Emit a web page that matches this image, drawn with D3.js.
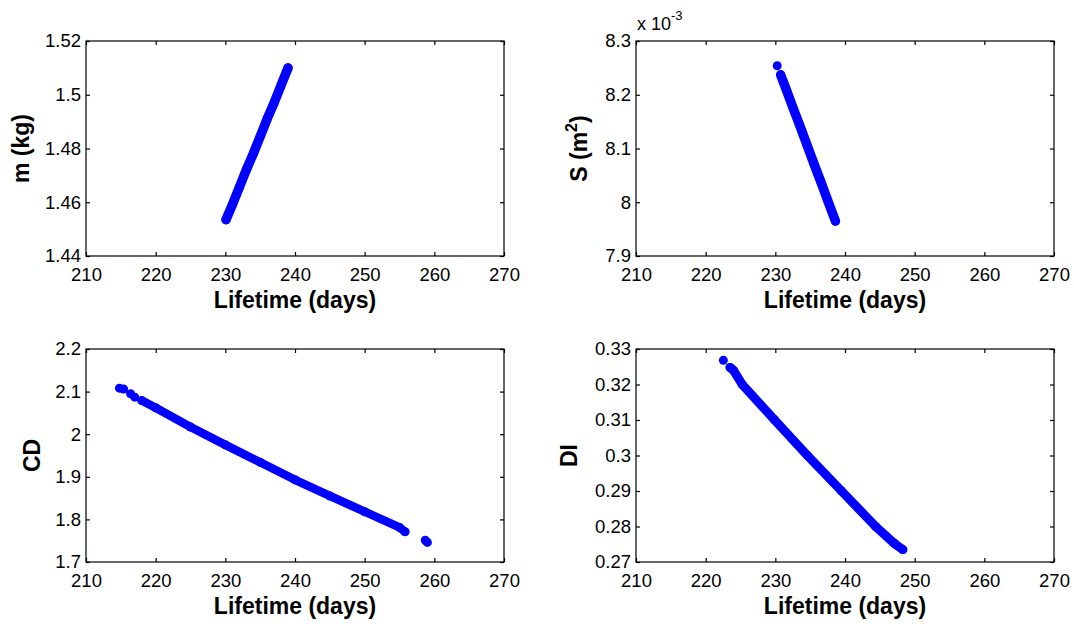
<!DOCTYPE html>
<html>
<head>
<meta charset="utf-8">
<script src="https://cdn.jsdelivr.net/npm/d3@7"></script>
<style>
  html, body { margin: 0; padding: 0; background: #fff; }
  svg { display: block; }
  text { font-family: "Liberation Sans", Arial, Helvetica, sans-serif; fill: #000; }
</style>
</head>
<body>
<svg id="chart" width="1074" height="624"></svg>
<script>
// ---------------- data ----------------
const xTicks = [210, 220, 230, 240, 250, 260, 270];
const xTickLabels = ["210", "220", "230", "240", "250", "260", "270"];

// Panel 1: m (kg) vs lifetime
const mLifetime = [230.1, 231.0, 232.0, 233.0, 234.0, 235.0, 236.0, 237.0, 238.0, 239.0];
const mValues   = [1.4535, 1.459, 1.4655, 1.472, 1.478, 1.4845, 1.491, 1.497, 1.5035, 1.510];
const mTicks = [1.44, 1.46, 1.48, 1.50, 1.52];
const mTickLabels = ["1.44", "1.46", "1.48", "1.5", "1.52"];

// Panel 2: S (m^2, x 10^-3) vs lifetime
const sLifetime = [230.27, 230.76, 231.5, 232.5, 233.5, 234.5, 235.5, 236.5, 237.5, 238.63];
const sValues   = [8.254, 8.237, 8.212, 8.177, 8.143, 8.108, 8.073, 8.039, 8.004, 7.965];
const sTicks = [7.9, 8.0, 8.1, 8.2, 8.3];
const sTickLabels = ["7.9", "8", "8.1", "8.2", "8.3"];

// Panel 3: CD vs lifetime
const cdLifetime = [214.8, 215.4, 216.4, 217.0, 218.0, 220.0, 225.0, 230.0, 235.0, 240.0, 245.0, 250.0, 255.0, 255.8, 258.7, 259.0];
const cdValues   = [2.108, 2.106, 2.095, 2.087, 2.079, 2.062, 2.017, 1.975, 1.934, 1.893, 1.855, 1.818, 1.781, 1.771, 1.751, 1.746];
const cdTicks = [1.7, 1.8, 1.9, 2.0, 2.1, 2.2];
const cdTickLabels = ["1.7", "1.8", "1.9", "2", "2.1", "2.2"];

// Panel 4: DI vs lifetime
const diLifetime = [222.54, 223.5, 224.0, 225.25, 229.9, 234.6, 239.5, 244.4, 247.1, 248.3];
const diValues   = [0.3268, 0.3248, 0.3240, 0.3200, 0.3100, 0.3000, 0.2900, 0.2800, 0.2752, 0.2735];
const diTicks = [0.27, 0.28, 0.29, 0.30, 0.31, 0.32, 0.33];
const diTickLabels = ["0.27", "0.28", "0.29", "0.3", "0.31", "0.32", "0.33"];

// ---------------- drawing ----------------
const svg = d3.select("#chart");
const BLUE = "#0000ff";
const TICK_FONT = "18.5px";
const LABEL_FONT = "23px";

function panel(cfg) {
  const x = d3.scaleLinear().domain([210, 270]).range([cfg.left, cfg.right]);
  const y = d3.scaleLinear().domain(cfg.yDomain).range([cfg.bottom, cfg.top]);
  const g = svg.append("g");

  const pts = cfg.xs.map((v, i) => ({ x: v, y: cfg.ys[i], i }));

  // dense band of markers: stroke through the read points of the continuous band
  const bandPts = pts.filter(p => p.i >= cfg.bandFrom && p.i <= cfg.bandTo);
  const line = d3.line().x(p => x(p.x)).y(p => y(p.y));
  g.append("path")
    .attr("d", line(bandPts))
    .attr("fill", "none")
    .attr("stroke", BLUE)
    .attr("stroke-width", cfg.bandWidth)
    .attr("stroke-linecap", "round")
    .attr("stroke-linejoin", "round");

  g.selectAll("circle").data(pts).enter().append("circle")
    .attr("cx", p => x(p.x))
    .attr("cy", p => y(p.y))
    .attr("r", 4.5)
    .attr("fill", BLUE);

  // frame
  g.append("rect")
    .attr("x", cfg.left).attr("y", cfg.top)
    .attr("width", cfg.right - cfg.left).attr("height", cfg.bottom - cfg.top)
    .attr("fill", "none").attr("stroke", "#000").attr("stroke-width", 1.2);

  const xb = g.append("g").attr("transform", `translate(0,${cfg.bottom})`)
    .call(d3.axisBottom(x).tickValues(xTicks).tickFormat((d, i) => xTickLabels[i])
      .tickSizeInner(-4).tickSizeOuter(0).tickPadding(12));
  const xt = g.append("g").attr("transform", `translate(0,${cfg.top})`)
    .call(d3.axisTop(x).tickValues(xTicks).tickFormat("").tickSizeInner(-4).tickSizeOuter(0));
  const yl = g.append("g").attr("transform", `translate(${cfg.left},0)`)
    .call(d3.axisLeft(y).tickValues(cfg.yTicks).tickFormat((d, i) => cfg.yTickLabels[i])
      .tickSizeInner(-4).tickSizeOuter(0).tickPadding(5));
  const yr = g.append("g").attr("transform", `translate(${cfg.right},0)`)
    .call(d3.axisRight(y).tickValues(cfg.yTicks).tickFormat("").tickSizeInner(-4).tickSizeOuter(0));

  [xb, xt, yl, yr].forEach(a => {
    a.select(".domain").remove();
    a.selectAll("line").attr("stroke", "#000").attr("stroke-width", 1.2);
    a.selectAll("text").attr("font-size", TICK_FONT).attr("fill", "#000")
      .style("font-family", '"Liberation Sans", Arial, sans-serif');
  });

  g.append("text")
    .attr("x", (cfg.left + cfg.right) / 2)
    .attr("y", cfg.bottom + 52)
    .attr("text-anchor", "middle")
    .attr("font-size", LABEL_FONT).attr("font-weight", "bold")
    .text("Lifetime (days)");

  const yLab = g.append("text")
    .attr("transform", `translate(${cfg.yLabelX},${(cfg.top + cfg.bottom) / 2}) rotate(-90)`)
    .attr("text-anchor", "middle")
    .attr("font-size", LABEL_FONT).attr("font-weight", "bold");
  cfg.yLabel(yLab);
}

panel({
  left: 86, right: 504, top: 41, bottom: 256,
  yDomain: [1.44, 1.52], yTicks: mTicks, yTickLabels: mTickLabels,
  xs: mLifetime, ys: mValues, bandFrom: 0, bandTo: 9, bandWidth: 9.5,
  yLabelX: 29,
  yLabel: t => t.text("m (kg)")
});

panel({
  left: 636, right: 1054, top: 41, bottom: 256,
  yDomain: [7.9, 8.3], yTicks: sTicks, yTickLabels: sTickLabels,
  xs: sLifetime, ys: sValues, bandFrom: 1, bandTo: 9, bandWidth: 9.5,
  yLabelX: 587,
  yLabel: t => {
    t.append("tspan").text("S (m");
    t.append("tspan").attr("font-size", "16px").attr("dy", "-0.6em").text("2");
    t.append("tspan").attr("dy", "0.42em").text(")");
  }
});

const ex = svg.append("text").attr("x", 637).attr("y", 30).attr("font-size", "18px");
ex.append("tspan").text("x 10");
ex.append("tspan").attr("font-size", "13px").attr("dy", "-10").text("-3");

panel({
  left: 86, right: 504, top: 349, bottom: 562,
  yDomain: [1.7, 2.2], yTicks: cdTicks, yTickLabels: cdTickLabels,
  xs: cdLifetime, ys: cdValues, bandFrom: 4, bandTo: 13, bandWidth: 8.5,
  yLabelX: 40,
  yLabel: t => t.text("CD")
});

panel({
  left: 636, right: 1054, top: 349, bottom: 562,
  yDomain: [0.27, 0.33], yTicks: diTicks, yTickLabels: diTickLabels,
  xs: diLifetime, ys: diValues, bandFrom: 1, bandTo: 9, bandWidth: 9,
  yLabelX: 577,
  yLabel: t => t.text("DI")
});
</script>
</body>
</html>
